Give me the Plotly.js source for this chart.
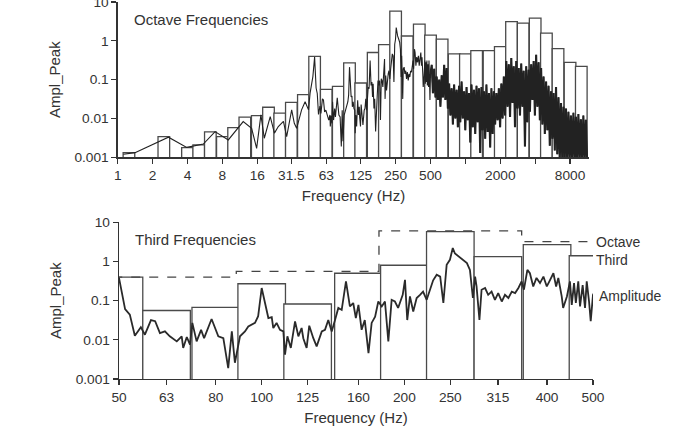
<!DOCTYPE html>
<html><head><meta charset="utf-8">
<script src="https://cdn.plot.ly/plotly-3.0.1.min.js"></script>
<style>html,body{margin:0;padding:0;background:#fff;}</style>
</head><body>
<div id="chart" style="width:673px;height:430px"></div>
<script>
// 1/3-octave band centres (Hz) that carry a bar, and their peak amplitudes
const bandCenters = [1.25, 2.5, 4, 5, 6.3, 8, 10, 12.5, 16, 20,
  25, 31.5, 40, 50, 63, 80, 100, 125, 160, 200,
  250, 315, 400, 500, 630, 800, 1000, 1250, 1600, 2000,
  2500, 3150, 4000, 5000, 6300, 8000, 10000];
const bandPeak = [0.00132, 0.0034, 0.00178, 0.0021, 0.0045, 0.0034, 0.0058, 0.0108, 0.0119, 0.0195,
  0.0137, 0.026, 0.041, 0.40, 0.056, 0.067, 0.27, 0.082, 0.50, 0.80,
  5.8, 1.33, 2.7, 1.4, 1.1, 0.46, 0.46, 0.56, 0.56, 0.71,
  3.14, 2.86, 3.84, 1.58, 0.63, 0.28, 0.22];

// octave bands (Hz) and peak amplitudes
const octaveCenters = [63, 125, 250, 500];
const octavePeak = [0.40, 0.56, 6.0, 3.2];

// amplitude spectrum
const specFreq = [
  1.12, 1.41, 2.74, 3.94, 5.48, 6.92, 9.0, 12.1, 14.3, 15.8,
  17.2, 18.4, 20.7, 22.5, 24.3, 26.9, 28.7, 31.7, 33.4, 35.0,
  38.6, 41.4, 44.3, 45.7, 48.3,
  50, 51.5, 52.7, 54.0, 55.6, 56.7, 58.4, 59.6, 61.0, 62.5,
  64.0, 66.2, 67.8, 68.3, 69.5, 70.6, 71.4, 72.9, 74.5, 75.6,
  78.4, 81.0, 83.0, 85.0, 86.5, 87.8, 90.0, 92.2, 93.7, 96.8,
  98.3, 100, 103.3, 105, 105.8, 107.5, 109.3, 111.1, 112, 113.3,
  115.2, 117.6, 119.5, 121.4, 122.4, 124.4, 126, 128.5, 130.6, 133.9,
  136, 138.2, 140.5, 142.8, 145.1, 147.5, 150.6, 153.5, 156, 158,
  160, 162.5, 165, 168, 170.6, 173.5, 176.2, 179.2, 182, 185,
  188, 191, 194, 198.4, 200.6, 202.8, 205.5, 208.8, 212.3, 215.8,
  219, 222.9, 226.5, 230, 234, 238, 241.7, 245.6, 249.5, 253,
  255.7, 260, 266, 271, 275, 279, 282, 284, 288, 291,
  296, 300.5, 305.5, 310.5, 315.5, 321, 326, 331.5, 337, 342.5,
  348, 353.5, 357.5, 363.5, 368, 374, 380, 386.5, 393, 399.5,
  406, 412.5, 418, 422.5, 429.5, 432.5, 440.5, 447, 451, 456,
  460, 465.5, 469.5, 475.5, 481, 485, 490.5, 494.5, 500,
  512, 525, 538, 552, 565, 580, 594, 609, 624, 640,
  656, 672, 689, 706, 724, 742, 761, 780, 799, 819,
  840, 861, 882, 904, 927, 950, 974, 998, 1023, 1049,
  1075, 1102, 1129, 1158, 1186, 1216, 1247, 1278, 1310, 1342,
  1376, 1410, 1446, 1482, 1519, 1557, 1596, 1636, 1677, 1719,
  1762, 1806, 1851, 1897, 1944, 1993, 2043, 2094, 2146, 2200,
  2255, 2311, 2369, 2428, 2489, 2551, 2615, 2680, 2747, 2816,
  2886, 2958, 3032, 3108, 3186, 3265, 3347, 3431, 3516, 3604,
  3694, 3787, 3881, 3978, 4078, 4180, 4284, 4391, 4501, 4614,
  4729, 4847, 4968, 5093, 5220, 5350, 5484, 5621, 5762, 5906,
  6053, 6205, 6360, 6519, 6682, 6849, 7020, 7196, 7376, 7560,
  7749, 7943, 8141, 8345, 8553, 8767, 8986, 9211, 9441, 9677,
  9919, 10167, 10421, 10682, 10949, 11223];
const specAmp = [
  0.0012, 0.00132, 0.0033, 0.0018, 0.0022, 0.0046, 0.0028, 0.0083, 0.0056, 0.0017,
  0.0124, 0.0031, 0.0112, 0.0042, 0.0062, 0.0084, 0.0034, 0.0167, 0.0075, 0.0056,
  0.0167, 0.027, 0.0167, 0.045, 0.12,
  0.38, 0.061, 0.044, 0.0127, 0.021, 0.0135, 0.032, 0.030, 0.0148, 0.0164,
  0.0123, 0.0091, 0.0123, 0.0062, 0.0118, 0.0075, 0.027, 0.0091, 0.018, 0.011,
  0.034, 0.0123, 0.011, 0.0019, 0.0164, 0.0026, 0.0123, 0.0164, 0.022, 0.027,
  0.040, 0.21, 0.036, 0.038, 0.020, 0.027, 0.018, 0.0164, 0.0042, 0.0123,
  0.0062, 0.0295, 0.0123, 0.020, 0.011, 0.0062, 0.0229, 0.011, 0.0068, 0.0164,
  0.018, 0.032, 0.0164, 0.032, 0.065, 0.058, 0.31, 0.071, 0.087, 0.036,
  0.078, 0.018, 0.032, 0.0046, 0.027, 0.039, 0.095, 0.071, 0.095, 0.0091,
  0.105, 0.095, 0.065, 0.141, 0.34, 0.032, 0.128, 0.053, 0.117, 0.141,
  0.17, 0.105, 0.19, 0.33, 0.46, 0.41, 0.087, 0.82, 1.1, 2.2,
  1.6, 1.34, 1.1, 0.91, 0.61, 0.117, 0.41, 0.23, 0.032, 0.19,
  0.21, 0.141, 0.17, 0.105, 0.156, 0.095, 0.141, 0.117, 0.17, 0.156,
  0.21, 0.31, 0.19, 0.61, 0.50, 0.23, 0.38, 0.28, 0.41, 0.23,
  0.34, 0.50, 0.23, 0.38, 0.128, 0.065, 0.128, 0.31, 0.078, 0.28,
  0.087, 0.31, 0.071, 0.25, 0.065, 0.31, 0.095, 0.03, 0.141,
  0.24, 0.045, 0.19, 0.035, 0.12, 0.03, 0.1, 0.02, 0.13, 0.035,
  0.24, 0.03, 0.2, 0.018, 0.08, 0.012, 0.06, 0.007, 0.075, 0.01,
  0.055, 0.006, 0.07, 0.008, 0.09, 0.01, 0.05, 0.005, 0.065, 0.009,
  0.045, 0.0024, 0.075, 0.006, 0.055, 0.004, 0.07, 0.008, 0.06, 0.0013,
  0.065, 0.005, 0.05, 0.003, 0.075, 0.0045, 0.045, 0.0018, 0.06, 0.004,
  0.05, 0.007, 0.045, 0.009, 0.06, 0.006, 0.08, 0.01, 0.12, 0.012,
  0.3, 0.02, 0.25, 0.011, 0.36, 0.025, 0.22, 0.006, 0.3, 0.018,
  0.2, 0.012, 0.26, 0.02, 0.17, 0.0019, 0.22, 0.008, 0.18, 0.015,
  0.25, 0.03, 0.3, 0.012, 0.44, 0.02, 0.28, 0.009, 0.2, 0.007,
  0.12, 0.004, 0.09, 0.005, 0.07, 0.002, 0.05, 0.003, 0.045, 0.0015,
  0.065, 0.0012, 0.035, 0.0008, 0.025, 0.0009, 0.02, 0.0008, 0.018, 0.0008,
  0.015, 0.0008, 0.012, 0.0008, 0.014, 0.0008, 0.011, 0.0008, 0.013, 0.0008,
  0.0095, 0.0008, 0.012, 0.0008, 0.0093, 0.0008];

// axis ticks
const topTickVals = [1, 2, 4, 8, 16, 31.5, 63, 125, 250, 500, 1000, 2000, 4000, 8000];
const topTickText = ['1', '2', '4', '8', '16', '31.5', '63', '125', '250', '500', '', '2000', '', '8000'];
const botTickVals = [50, 63, 80, 100, 125, 160, 200, 250, 315, 400, 500];
const botTickText = ['50', '63', '80', '100', '125', '160', '200', '250', '315', '400', '500'];
const yTickVals = [0.001, 0.01, 0.1, 1, 10];
const yTickText = ['0.001', '0.01', '0.1', '1', '10'];

// band edges derived from centres
const third = Math.pow(2, 1 / 6), oct = Math.SQRT2;
const bandLo = bandCenters.map(c => c / third);
const bandHi = bandCenters.map(c => c * third);
const barX = bandLo.map((lo, i) => (lo + bandHi[i]) / 2);
const barW = bandLo.map((lo, i) => bandHi[i] - lo);
const octX = octaveCenters.map(c => c / oct).concat([octaveCenters[octaveCenters.length - 1] * oct]);
const octY = octavePeak.concat([octavePeak[octavePeak.length - 1]]);

// dense upper part of the spectrum (drawn heavier in the top panel)
const denseStart = specFreq.indexOf(500);
const denseFreq = specFreq.slice(denseStart);
const denseAmp = specAmp.slice(denseStart);

const ink = '#333';
const barStyle = {color: '#ffffff', line: {color: '#4a4a4a', width: 1.3}};

const traces = [
  {type: 'bar', x: barX, y: bandPeak, width: barW, marker: barStyle, xaxis: 'x', yaxis: 'y', hoverinfo: 'skip'},
  {type: 'scatter', mode: 'lines', x: specFreq, y: specAmp, xaxis: 'x', yaxis: 'y',
   line: {color: '#222', width: 1.1}},
  {type: 'scatter', mode: 'lines', x: denseFreq, y: denseAmp, xaxis: 'x', yaxis: 'y',
   line: {color: '#222', width: 2.1}},
  {type: 'bar', x: barX, y: bandPeak, width: barW, marker: barStyle, xaxis: 'x2', yaxis: 'y2', hoverinfo: 'skip'},
  {type: 'scatter', mode: 'lines', x: octX, y: octY, xaxis: 'x2', yaxis: 'y2',
   line: {color: '#444', width: 1.3, dash: 'dash', shape: 'hv'}},
  {type: 'scatter', mode: 'lines', x: specFreq, y: specAmp, xaxis: 'x2', yaxis: 'y2',
   line: {color: '#2a2a2a', width: 1.8}}
];

const axisCommon = {
  showline: true, linecolor: ink, linewidth: 1.3, mirror: false,
  ticks: 'outside', ticklen: 5, tickwidth: 1.3, tickcolor: ink,
  showgrid: false, zeroline: false, tickfont: {size: 13.7, color: ink},
  tickmode: 'array', ticklabeloverflow: 'allow'
};

const layout = {
  width: 673, height: 430,
  margin: {l: 117, r: 80, t: 2, b: 51, pad: 0},
  paper_bgcolor: '#fff', plot_bgcolor: '#fff',
  showlegend: false, bargap: 0,
  font: {family: 'Liberation Sans, Arial, Helvetica, sans-serif', size: 14, color: ink},
  xaxis: Object.assign({}, axisCommon, {
    type: 'log', domain: [0.0015, 0.992], range: [0, Math.log10(11700)], anchor: 'y',
    tickvals: topTickVals, ticktext: topTickText,
    title: {text: 'Frequency (Hz)', font: {size: 15, color: ink}, standoff: 8}
  }),
  yaxis: Object.assign({}, axisCommon, {
    type: 'log', domain: [0.588, 1], range: [-3, 1], anchor: 'x',
    tickvals: yTickVals, ticktext: yTickText,
    title: {text: 'Ampl_Peak', font: {size: 15, color: ink}, standoff: 10}
  }),
  xaxis2: Object.assign({}, axisCommon, {
    type: 'log', domain: [0.0042, 1], range: [Math.log10(50), Math.log10(500)], anchor: 'y2',
    tickvals: botTickVals, ticktext: botTickText,
    title: {text: 'Frequency (Hz)', font: {size: 15, color: ink}, standoff: 8}
  }),
  yaxis2: Object.assign({}, axisCommon, {
    type: 'log', domain: [0, 0.4157], range: [-3, 1], anchor: 'x2',
    tickvals: yTickVals, ticktext: yTickText,
    title: {text: 'Ampl_Peak', font: {size: 15, color: ink}, standoff: 10}
  }),
  annotations: [
    {text: 'Octave Frequencies', xref: 'x domain', yref: 'y domain', x: 0.03, y: 0.885,
     xanchor: 'left', yanchor: 'middle', showarrow: false, font: {size: 15, color: ink}},
    {text: 'Third Frequencies', xref: 'x2 domain', yref: 'y2 domain', x: 0.03, y: 0.887,
     xanchor: 'left', yanchor: 'middle', showarrow: false, font: {size: 15, color: ink}},
    {text: 'Octave', xref: 'x2', yref: 'y2', x: Math.log10(500), y: Math.log10(octavePeak[3]),
     xanchor: 'left', yanchor: 'middle', xshift: 1, showarrow: false, font: {size: 14, color: ink}},
    {text: 'Third', xref: 'x2', yref: 'y2', x: Math.log10(500), y: Math.log10(bandPeak[23]),
     xanchor: 'left', yanchor: 'middle', xshift: 1, yshift: -4, showarrow: false, font: {size: 14, color: ink}},
    {text: 'Amplitude', xref: 'x2', yref: 'y2', x: Math.log10(500), y: Math.log10(0.128),
     xanchor: 'left', yanchor: 'middle', xshift: 4, showarrow: false, font: {size: 14, color: ink}}
  ]
};

Plotly.newPlot('chart', traces, layout, {staticPlot: true, displayModeBar: false});
</script>
</body></html>
